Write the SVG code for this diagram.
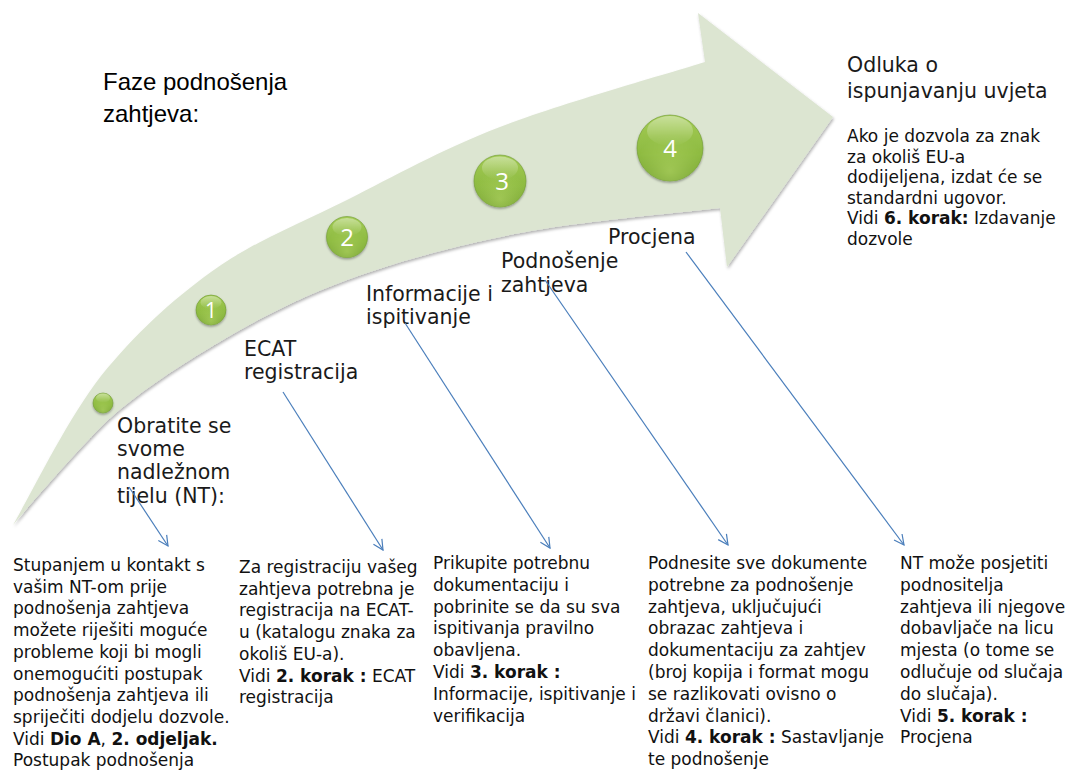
<svg xmlns="http://www.w3.org/2000/svg" width="1077" height="771" viewBox="0 0 1077 771">
<style>
.lbl{font-family:"DejaVu Sans","Liberation Sans",sans-serif;font-size:20.5px;fill:#1a1a1a}
.body{font-family:"DejaVu Sans","Liberation Sans",sans-serif;font-size:17px;fill:#111}
.b{font-weight:bold}
.num{font-family:"Open Sans","Liberation Sans",sans-serif;fill:#fff;text-anchor:middle}
.title{font-family:"Liberation Sans",sans-serif;font-size:24px;fill:#000}
.conn{stroke:#4a7ebb;stroke-width:1.2;fill:none;marker-end:url(#arr)}
.ball{fill:url(#ballFill);stroke:#6f9a30;stroke-width:0.6;filter:url(#ballShadow)}
.glow{fill:url(#ballGlow)}
.gloss{fill:url(#ballGloss)}
</style>
<defs>
<linearGradient id="ballFill" x1="0" y1="0" x2="0" y2="1">
<stop offset="0" stop-color="#a3cb55"/>
<stop offset="0.6" stop-color="#8dba40"/>
<stop offset="1" stop-color="#729f2f"/>
</linearGradient>
<radialGradient id="ballGlow" cx="0.5" cy="0.85" r="0.55">
<stop offset="0" stop-color="#b6d968" stop-opacity="0.6"/>
<stop offset="1" stop-color="#b6d968" stop-opacity="0"/>
</radialGradient>
<linearGradient id="ballGloss" x1="0" y1="0" x2="0" y2="1">
<stop offset="0" stop-color="#ffffff" stop-opacity="0.4"/>
<stop offset="1" stop-color="#ffffff" stop-opacity="0"/>
</linearGradient>
<filter id="ballShadow" x="-30%" y="-30%" width="160%" height="170%">
<feDropShadow dx="0" dy="1.5" stdDeviation="1.2" flood-color="#000" flood-opacity="0.35"/>
</filter>
<filter id="arrowShadow" x="-5%" y="-5%" width="110%" height="115%">
<feDropShadow dx="1" dy="2" stdDeviation="1.5" flood-color="#000" flood-opacity="0.3"/>
</filter>
<marker id="arr" viewBox="0 0 12 12" refX="11" refY="6" markerWidth="12" markerHeight="12" markerUnits="userSpaceOnUse" orient="auto">
<path d="M1,1 L11,6 L1,11" fill="none" stroke="#4a7ebb" stroke-width="1.2"/>
</marker>
</defs>

<g id="big-arrow">
<path filter="url(#arrowShadow)" fill="#dce5d1" d="M13,525 C28,500 66,421 101,376 C136,333 170.3,301.7 211,272 C251.7,242.3 298.8,224.2 347,200 C395.2,175.8 440.3,150 500,127 C559.7,104 670.8,72.8 705,62 L698,13 L833,117 L727,267 L720,208 C686.7,212.2 582.2,221 520,233 C457.8,245 398.5,261 347,280 C295.5,299 251.7,322.3 211,347 C170.3,371.7 138,393 108,420 C75,452 30,505 13,525 Z"/>
</g>

<g id="title">
<text class="title" x="103" y="90">Faze podnošenja</text>
<text class="title" x="103" y="122">zahtjeva:</text>
</g>

<g id="stage-contact">
<circle class="ball" cx="103" cy="403" r="10"/>
<circle class="glow" cx="103" cy="403" r="10"/>
<ellipse class="gloss" cx="103" cy="398" rx="7" ry="4.5"/>
<text class="lbl" x="117" y="433">Obratite se</text>
<text class="lbl" x="117" y="456">svome</text>
<text class="lbl" x="117" y="479">nadležnom</text>
<text class="lbl" x="117" y="503">tijelu (NT):</text>
</g>

<g id="stage-1">
<circle class="ball" cx="211" cy="310" r="15"/>
<circle class="glow" cx="211" cy="310" r="15"/>
<ellipse class="gloss" cx="211" cy="302.5" rx="10.5" ry="6.5"/>
<text class="num" x="211" y="318" font-size="21">1</text>
<text class="lbl" x="244" y="356">ECAT</text>
<text class="lbl" x="244" y="379">registracija</text>
</g>

<g id="stage-2">
<circle class="ball" cx="347" cy="237" r="20.5"/>
<circle class="glow" cx="347" cy="237" r="20.5"/>
<ellipse class="gloss" cx="347" cy="227" rx="14.5" ry="9"/>
<text class="num" x="347" y="245.5" font-size="24">2</text>
<text class="lbl" x="366" y="301">Informacije i</text>
<text class="lbl" x="366" y="324">ispitivanje</text>
</g>

<g id="stage-3">
<circle class="ball" cx="500" cy="181" r="26"/>
<circle class="glow" cx="500" cy="181" r="26"/>
<ellipse class="gloss" cx="500" cy="168" rx="18" ry="11.5"/>
<text class="num" x="502" y="189.5" font-size="24">3</text>
<text class="lbl" x="501" y="268">Podnošenje</text>
<text class="lbl" x="501" y="292">zahtjeva</text>
</g>

<g id="stage-4">
<circle class="ball" cx="670" cy="148" r="33"/>
<circle class="glow" cx="670" cy="148" r="33"/>
<ellipse class="gloss" cx="670" cy="131" rx="23" ry="15"/>
<text class="num" x="670" y="156.5" font-size="24">4</text>
<text class="lbl" x="608" y="244">Procjena</text>
</g>

<g id="decision">
<text class="lbl" x="847" y="72" font-size="20">Odluka o</text>
<text class="lbl" x="847" y="98" font-size="20">ispunjavanju uvjeta</text>
<text class="body" x="847" y="142">Ako je dozvola za znak</text>
<text class="body" x="847" y="162.6">za okoliš EU-a</text>
<text class="body" x="847" y="183.2">dodijeljena, izdat će se</text>
<text class="body" x="847" y="203.8">standardni ugovor.</text>
<text class="body" x="847" y="224.4">Vidi <tspan class="b">6. korak:</tspan> Izdavanje</text>
<text class="body" x="847" y="245">dozvole</text>
</g>

<g id="desc-contact">
<text class="body" x="13" y="571">Stupanjem u kontakt s</text>
<text class="body" x="13" y="592.7">vašim NT-om prije</text>
<text class="body" x="13" y="614.4">podnošenja zahtjeva</text>
<text class="body" x="13" y="636.1">možete riješiti moguće</text>
<text class="body" x="13" y="657.8">probleme koji bi mogli</text>
<text class="body" x="13" y="679.5">onemogućiti postupak</text>
<text class="body" x="13" y="701.2">podnošenja zahtjeva ili</text>
<text class="body" x="13" y="722.9">spriječiti dodjelu dozvole.</text>
<text class="body" x="13" y="744.6">Vidi <tspan class="b">Dio A</tspan>, <tspan class="b">2. odjeljak.</tspan></text>
<text class="body" x="13" y="766.3">Postupak podnošenja</text>
</g>

<g id="desc-1">
<text class="body" x="239" y="573">Za registraciju vašeg</text>
<text class="body" x="239" y="594.7">zahtjeva potrebna je</text>
<text class="body" x="239" y="616.4">registracija na ECAT-</text>
<text class="body" x="239" y="638.1">u (katalogu znaka za</text>
<text class="body" x="239" y="659.8">okoliš EU-a).</text>
<text class="body" x="239" y="681.5">Vidi <tspan class="b">2. korak :</tspan> ECAT</text>
<text class="body" x="239" y="703.2">registracija</text>
</g>

<g id="desc-2">
<text class="body" x="433" y="569">Prikupite potrebnu</text>
<text class="body" x="433" y="590.8">dokumentaciju i</text>
<text class="body" x="433" y="612.6">pobrinite se da su sva</text>
<text class="body" x="433" y="634.4">ispitivanja pravilno</text>
<text class="body" x="433" y="656.2">obavljena.</text>
<text class="body" x="433" y="678">Vidi <tspan class="b">3. korak :</tspan></text>
<text class="body" x="433" y="699.8">Informacije, ispitivanje i</text>
<text class="body" x="433" y="721.6">verifikacija</text>
</g>

<g id="desc-3">
<text class="body" x="648" y="569">Podnesite sve dokumente</text>
<text class="body" x="648" y="590.8">potrebne za podnošenje</text>
<text class="body" x="648" y="612.6">zahtjeva, uključujući</text>
<text class="body" x="648" y="634.4">obrazac zahtjeva i</text>
<text class="body" x="648" y="656.2">dokumentaciju za zahtjev</text>
<text class="body" x="648" y="678">(broj kopija i format mogu</text>
<text class="body" x="648" y="699.8">se razlikovati ovisno o</text>
<text class="body" x="648" y="721.6">državi članici).</text>
<text class="body" x="648" y="743.4">Vidi <tspan class="b">4. korak :</tspan> Sastavljanje</text>
<text class="body" x="648" y="765.2">te podnošenje</text>
</g>

<g id="desc-4">
<text class="body" x="900" y="569">NT može posjetiti</text>
<text class="body" x="900" y="590.8">podnositelja</text>
<text class="body" x="900" y="612.6">zahtjeva ili njegove</text>
<text class="body" x="900" y="634.4">dobavljače na licu</text>
<text class="body" x="900" y="656.2">mjesta (o tome se</text>
<text class="body" x="900" y="678">odlučuje od slučaja</text>
<text class="body" x="900" y="699.8">do slučaja).</text>
<text class="body" x="900" y="721.6">Vidi <tspan class="b">5. korak :</tspan></text>
<text class="body" x="900" y="743.4">Procjena</text>
</g>

<g id="connectors">
<line class="conn" x1="129" y1="487" x2="168" y2="546"/>
<line class="conn" x1="283" y1="392" x2="383" y2="550"/>
<line class="conn" x1="405" y1="323" x2="550" y2="548"/>
<line class="conn" x1="545" y1="280" x2="728" y2="545"/>
<line class="conn" x1="686" y1="252" x2="904" y2="545"/>
</g>
</svg>
